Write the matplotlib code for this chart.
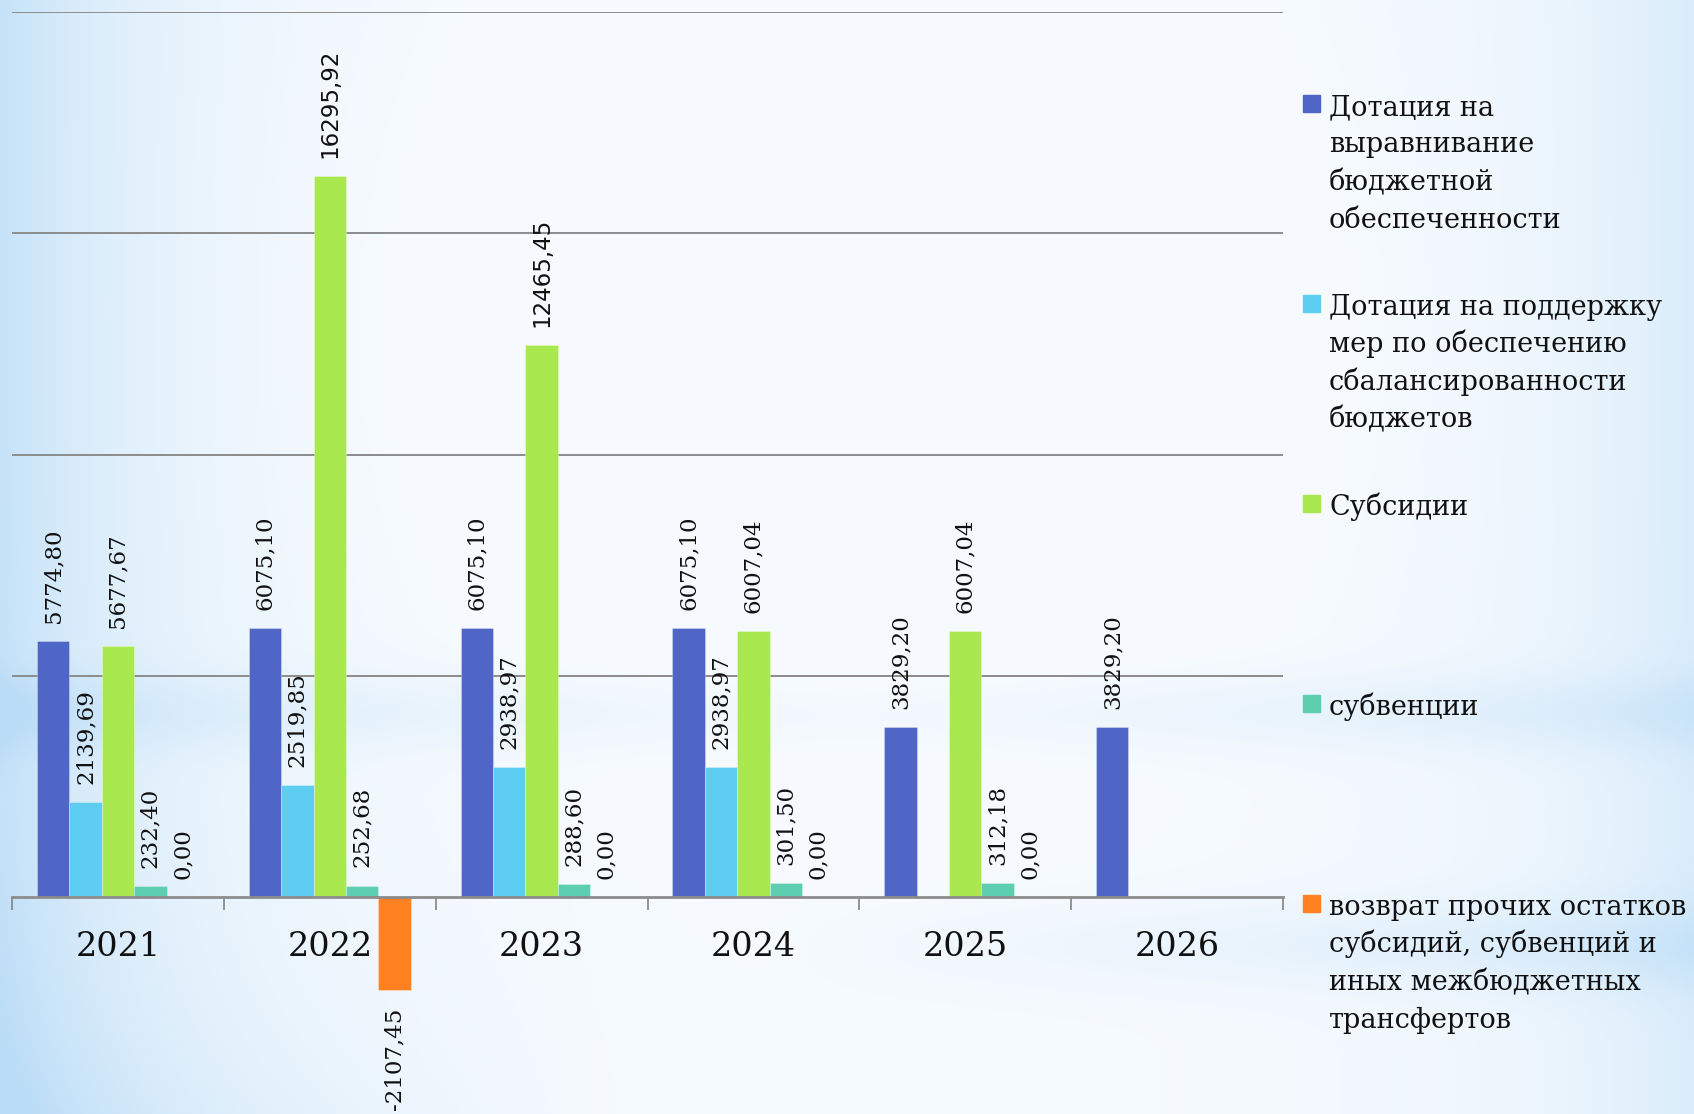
import numpy as np
import matplotlib
matplotlib.use("Agg")
import matplotlib.pyplot as plt
from matplotlib.patches import Rectangle

# данные
years = ["2021", "2022", "2023", "2024", "2025", "2026"]
dot_vyr = [5774.80, 6075.10, 6075.10, 6075.10, 3829.20, 3829.20]
dot_sbal = [2139.69, 2519.85, 2938.97, 2938.97, np.nan, np.nan]
subsidii = [5677.67, 16295.92, 12465.45, 6007.04, 6007.04, np.nan]
subvencii = [232.40, 252.68, 288.60, 301.50, 312.18, np.nan]
vozvrat = [0.00, -2107.45, 0.00, 0.00, 0.00, np.nan]

series_names = [
    "Дотация на\nвыравнивание\nбюджетной\nобеспеченности",
    "Дотация на поддержку\nмер по обеспечению\nсбалансированности\nбюджетов",
    "Субсидии",
    "субвенции",
    "возврат прочих остатков\nсубсидий, субвенций и\nиных межбюджетных\nтрансфертов",
]
series = [dot_vyr, dot_sbal, subsidii, subvencii, vozvrat]
colors = ["#5066C6", "#5ECDF2", "#A9E94F", "#5DCFB0", "#FF8121"]

W, H = 1694, 1114
fig = plt.figure(figsize=(W / 100, H / 100), dpi=100)

# фон - светло-голубой градиент
bg = fig.add_axes([0, 0, 1, 1], zorder=-10)
yy, xx = np.mgrid[0:1:300j, 0:1:450j]
w = 0.85 * np.exp(-xx / 0.09)
w += 0.50 * np.exp(-(1 - xx) / 0.09)
w += 0.30 * np.exp(-((yy - 0.64) / 0.035) ** 2) * (0.35 + 0.65 * np.abs(xx - 0.5) * 2)
w += 0.35 * np.exp(-((yy - 0.85) / 0.04) ** 2) * np.clip((xx - 0.45) * 2.0, 0, 1)
w += 0.35 * np.exp(-((1 - yy) / 0.12)) * np.clip((0.35 - xx) * 3, 0, 1)
w -= 0.25 * np.exp(-(((xx - 0.5) / 0.25) ** 2 + ((yy - 0.3) / 0.3) ** 2))
w = np.clip(w, 0, 1)
white = np.array([0.965, 0.982, 0.998])
blue = np.array([0.74, 0.87, 0.97])
img = white[None, None, :] * (1 - w[..., None]) + blue[None, None, :] * w[..., None]
bg.imshow(img, aspect="auto", extent=[0, 1, 0, 1], interpolation="bilinear")
bg.axis("off")

ax = fig.add_axes([12 / W, 0, (1283 - 12) / W, (H - 12.3) / H])
ax.set_facecolor("none")

x = np.arange(len(years))
bw = 0.153
for i, (vals, col) in enumerate(zip(series, colors)):
    pos = x + (i - 2) * bw
    vals = np.array(vals, dtype=float)
    ax.bar(pos, vals, bw, color=col, edgecolor="#ffffff55", linewidth=0.6, zorder=3)
    for p, v in zip(pos, vals):
        if np.isnan(v):
            continue
        txt = f"{v:.2f}".replace(".", ",")
        fam = "DejaVu Sans" if v > 10000 else "DejaVu Serif"
        ax.annotate(txt, (p, v), xytext=(0, 13 if v >= 0 else -13),
                    textcoords="offset points", rotation=90, ha="center",
                    va="bottom" if v >= 0 else "top", fontsize=16.5,
                    family=fam, color="#111111", zorder=4)

ax.set_xlim(-0.5, 5.5)
ax.set_ylim(-4914, 20000)
ax.set_yticks([5000, 10000, 15000, 20000])
ax.tick_params(axis="y", left=False, labelleft=False)
ax.yaxis.grid(True, color="#8c8c8c", linewidth=1.4, zorder=1)
ax.set_axisbelow(True)
for s in ["left", "right", "top"]:
    ax.spines[s].set_visible(False)
ax.spines["bottom"].set_position(("data", 0))
ax.spines["bottom"].set_color("#8c8c8c")
ax.spines["bottom"].set_linewidth(2)
ax.spines["bottom"].set_zorder(5)
ax.set_xticks(np.arange(-0.5, 6, 1.0))
ax.set_xticklabels([])
ax.tick_params(axis="x", which="major", direction="out", length=9, width=1.3, color="#8c8c8c")
ax.set_xticks(x, minor=True)
ax.set_xticklabels(years, minor=True, fontsize=24, family="DejaVu Serif", color="#111111")
ax.tick_params(axis="x", which="minor", length=0, pad=25)

# легенда вручную, построчно
for k, (name, col) in enumerate(zip(series_names, colors)):
    base = 115 + 200 * k
    fig.patches.append(Rectangle((1303 / W, 1 - (base - 3) / H), 17 / W, 17 / H,
                                 transform=fig.transFigure, color=col))
    for j, line in enumerate(name.split("\n")):
        fig.text(1329 / W, 1 - (base + 37.5 * j) / H, line, fontsize=19.5,
                 family="DejaVu Serif", color="#111111", va="baseline", ha="left")

fig.savefig("out.png", dpi=100)
